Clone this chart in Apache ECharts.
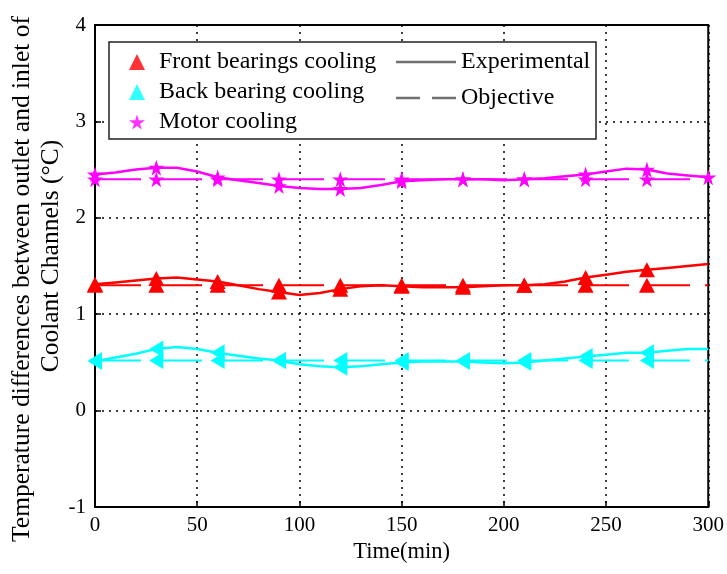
<!DOCTYPE html>
<html><head><meta charset="utf-8">
<script src="https://cdn.jsdelivr.net/npm/echarts/dist/echarts.min.js"></script>
<style>html,body{margin:0;padding:0;background:#fff}#c{width:727px;height:574px}</style>
</head><body><div id="c"></div>
<script>
// Experimental curves (read every 10 min)
const timeExp = [0,10,20,30,40,50,60,70,80,90,100,110,120,130,140,150,160,170,180,190,200,210,220,230,240,250,260,270,280,290,300];
const frontExp = [1.31,1.33,1.35,1.37,1.38,1.36,1.34,1.30,1.26,1.23,1.20,1.22,1.26,1.29,1.30,1.29,1.28,1.28,1.28,1.29,1.30,1.30,1.31,1.34,1.38,1.41,1.44,1.46,1.48,1.50,1.52];
const backExp  = [0.51,0.55,0.59,0.64,0.66,0.64,0.60,0.57,0.54,0.52,0.48,0.46,0.45,0.46,0.48,0.50,0.51,0.51,0.51,0.50,0.49,0.50,0.52,0.54,0.56,0.58,0.60,0.60,0.62,0.64,0.64];
const motorExp = [2.45,2.47,2.50,2.52,2.52,2.48,2.42,2.39,2.36,2.33,2.31,2.30,2.30,2.31,2.34,2.38,2.39,2.40,2.40,2.40,2.39,2.40,2.41,2.43,2.45,2.48,2.51,2.50,2.46,2.44,2.42];
// Objective values
const timeObj  = [0,30,60,90,120,150,180,210,240,270,300];
const frontObj = [1.3,1.3,1.3,1.3,1.3,1.3,1.3,1.3,1.3,1.3,1.3];
const backObj  = [0.52,0.52,0.52,0.52,0.52,0.52,0.52,0.52,0.52,0.52,0.52];
const motorObj = [2.4,2.4,2.4,2.4,2.4,2.4,2.4,2.4,2.4,2.4,2.4];
const seriesNames = ['Front bearings cooling','Back bearing cooling','Motor cooling'];
const styleNames = ['Experimental','Objective'];
const xTicks = [0,50,100,150,200,250,300];
const yTicks = [-1,0,1,2,3,4];
const xTitle = 'Time(min)';
const yTitle1 = 'Temperature differences between outlet and inlet of';
const yTitle2 = 'Coolant Channels (°C)';

const FONT = '"Liberation Serif","Times New Roman",serif';
const STAR = 'path://M50,0 L61,35 L98,35 L68,57 L79,91 L50,70 L21,91 L32,57 L2,35 L39,35 Z';
const groups = [
  {name: seriesNames[0], exp: frontExp, obj: frontObj, color: '#ff0000', symbol: 'triangle', size: [16,15], rot: 0, end: false},
  {name: seriesNames[1], exp: backExp, obj: backObj, color: '#00ffff', symbol: 'triangle', size: [17,14], rot: 90, end: false},
  {name: seriesNames[2], exp: motorExp, obj: motorObj, color: '#ff00ff', symbol: STAR, size: [16,16], rot: 0, end: true}
];
const series = [];
groups.forEach(g => {
  series.push({
    type: 'line', name: g.name + ' exp', data: timeExp.map((t,i)=>[t,g.exp[i]]),
    symbol: g.symbol, symbolRotate: g.rot, showAllSymbol: true, clip: false,
    symbolSize: v => (v[0] % 30 === 0 && (v[0] < 300 || g.end)) ? g.size : 0,
    lineStyle: {color: g.color, width: 2.5}, itemStyle: {color: g.color}, z: 3
  });
  series.push({
    type: 'line', name: g.name + ' obj', data: timeObj.map((t,i)=>[t,g.obj[i]]),
    symbol: g.symbol, symbolRotate: g.rot, showAllSymbol: true, clip: false,
    symbolSize: v => v[0] < 300 ? g.size : 0,
    lineStyle: {color: g.color, width: 2, type: [46,15]}, itemStyle: {color: g.color}, z: 3
  });
  series.push({type: 'scatter', name: g.name, data: [], symbol: g.symbol, symbolRotate: g.rot, itemStyle: {color: g.color}});
});
series.push({type: 'line', name: styleNames[0], data: [], symbol: 'none', lineStyle: {color: '#707070', width: 2}, itemStyle: {color: '#707070'}});
series.push({type: 'line', name: styleNames[1], data: [], symbol: 'none', lineStyle: {color: '#707070', width: 2, type: [24,12]}, itemStyle: {color: '#707070'}});

const splitStyle = {show: true, lineStyle: {color: '#000', width: 1.5, type: [2,5]}};
const chart = echarts.init(document.getElementById('c'));
chart.setOption({
  animation: false,
  backgroundColor: '#fff',
  grid: {left: 95, right: 18, top: 25, bottom: 67, show: true, borderColor: '#000', borderWidth: 2, backgroundColor: 'transparent'},
  xAxis: {
    type: 'value', min: xTicks[0], max: xTicks[xTicks.length-1], interval: 50,
    name: xTitle, nameLocation: 'middle', nameGap: 31,
    nameTextStyle: {fontFamily: FONT, fontSize: 22.5, color: '#000'},
    axisLine: {show: true, onZero: false, lineStyle: {color: '#000', width: 2}},
    axisTick: {show: true, inside: true, length: 6, lineStyle: {color: '#000', width: 1.5}},
    axisLabel: {color: '#000', fontFamily: FONT, fontSize: 21, margin: 8},
    splitLine: splitStyle
  },
  yAxis: {
    type: 'value', min: yTicks[0], max: yTicks[yTicks.length-1], interval: 1,
    axisLine: {show: true, onZero: false, lineStyle: {color: '#000', width: 2}},
    axisTick: {show: true, inside: true, length: 6, lineStyle: {color: '#000', width: 1.5}},
    axisLabel: {color: '#000', fontFamily: FONT, fontSize: 21, margin: 9},
    splitLine: splitStyle
  },
  legend: [
    {data: seriesNames, orient: 'vertical', left: 129, top: 50, padding: 0, itemWidth: 16, itemHeight: 16, itemGap: 6, z: 20,
     textStyle: {fontFamily: FONT, fontSize: 24, lineHeight: 24, color: '#000', padding: [0,0,0,9]}},
    {data: [
       {name: styleNames[0], icon: 'path://M0,0H60V2.5H0Z'},
       {name: styleNames[1], icon: 'path://M0,0H24V2.5H0Z M36,0H60V2.5H36Z'}
     ], orient: 'vertical', left: 396, top: 50, padding: 0, itemWidth: 60, itemHeight: 2.5, itemGap: 12, z: 20,
     textStyle: {fontFamily: FONT, fontSize: 24, lineHeight: 24, color: '#000', padding: [0,0,0,0]}}
  ],
  graphic: [
    {type: 'rect', z: 10, shape: {x: 109, y: 42, width: 487, height: 97}, style: {fill: '#fff', stroke: '#222', lineWidth: 1.5}},
    {type: 'text', x: 22, y: 279, rotation: Math.PI/2, style: {text: yTitle1, font: '25.5px ' + FONT, fill: '#000', align: 'center', verticalAlign: 'middle'}},
    {type: 'text', x: 51, y: 256, rotation: Math.PI/2, style: {text: yTitle2, font: '25.5px ' + FONT, fill: '#000', align: 'center', verticalAlign: 'middle'}}
  ],
  series: series
});
</script>
</body></html>
